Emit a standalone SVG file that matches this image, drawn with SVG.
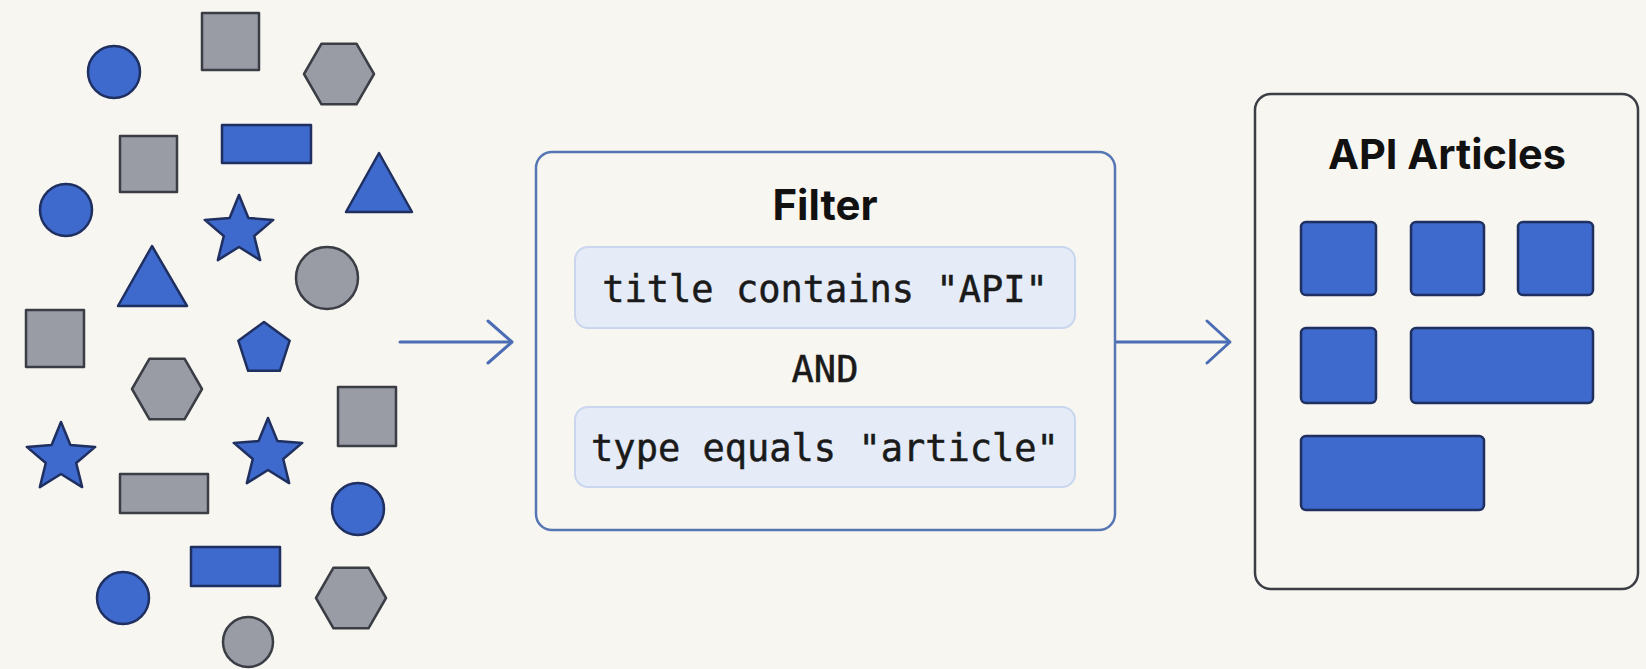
<svg xmlns="http://www.w3.org/2000/svg" xmlns:xlink="http://www.w3.org/1999/xlink" width="1646" height="669" viewBox="0 0 1646 669">
<style>
.bl{fill:#3e69cd;stroke:#1e2f60;stroke-width:2.5;stroke-linejoin:round}
.gr{fill:#999ca4;stroke:#3a3d44;stroke-width:2.5;stroke-linejoin:round}
.res{fill:#3e69cd;stroke:#1e2f60;stroke-width:2.5}
.title{font-family:Inter,"Liberation Sans",sans-serif;font-weight:700;fill:#111;text-anchor:middle}
.mono{font-family:"DejaVu Sans Mono","Liberation Mono",monospace;font-size:37px;fill:#1a1a1a;stroke:#1a1a1a;stroke-width:0.5;text-anchor:middle}
.cond{fill:#e5ecf8;stroke:#c9d6ee;stroke-width:2}
.conn{fill:none;stroke:#4a6db4;stroke-width:3;stroke-linecap:round;stroke-linejoin:round}
</style>
<defs>
<path id="star" d="M0,-36 L9.4,-12.94 L34.24,-11.12 L15.22,4.94 L21.16,29.12 L0,16 L-21.16,29.12 L-15.22,4.94 L-34.24,-11.12 L-9.4,-12.94 Z"/>
<path id="hex" d="M-35,0 L-17.5,-30.3 L17.5,-30.3 L35,0 L17.5,30.3 L-17.5,30.3 Z"/>
<path id="pent" d="M0,-27 L25.68,-8.34 L15.87,21.84 L-15.87,21.84 L-25.68,-8.34 Z"/>
</defs>
<rect x="0" y="0" width="1646" height="669" fill="#f8f6f1"/>

<g id="input-items">
<g id="s1"><circle class="bl" cx="114" cy="72" r="26"/></g>
<g id="s2"><rect class="gr" x="202" y="13" width="57" height="57"/></g>
<g id="s3"><use class="gr" href="#hex" x="339" y="74"/></g>
<g id="s4"><rect class="gr" x="120" y="136" width="57" height="56"/></g>
<g id="s5"><rect class="bl" x="222" y="125" width="89" height="38"/></g>
<g id="s6"><polygon class="bl" points="379,153 412,212 346,212"/></g>
<g id="s7"><circle class="bl" cx="66" cy="210" r="26"/></g>
<g id="s8"><use class="bl" href="#star" x="239" y="231"/></g>
<g id="s9"><polygon class="bl" points="152,246 187,306 118,306"/></g>
<g id="s10"><circle class="gr" cx="327" cy="278" r="31"/></g>
<g id="s11"><rect class="gr" x="26" y="310" width="58" height="57"/></g>
<g id="s12"><use class="bl" href="#pent" x="264" y="349"/></g>
<g id="s13"><use class="gr" href="#hex" x="167" y="389"/></g>
<g id="s14"><rect class="gr" x="338" y="387" width="58" height="59"/></g>
<g id="s15"><use class="bl" href="#star" x="61" y="458"/></g>
<g id="s16"><use class="bl" href="#star" x="268" y="454"/></g>
<g id="s17"><rect class="gr" x="120" y="474" width="88" height="39"/></g>
<g id="s18"><circle class="bl" cx="358" cy="509" r="26"/></g>
<g id="s19"><rect class="bl" x="191" y="547" width="89" height="39"/></g>
<g id="s20"><circle class="bl" cx="123" cy="598" r="26"/></g>
<g id="s21"><use class="gr" href="#hex" x="351" y="598"/></g>
<g id="s22"><circle class="gr" cx="248" cy="642" r="25"/></g>
</g>

<g id="connectors">
<path class="conn" d="M400,342 H511"/>
<path class="conn" d="M488,321 L512,342 L488,363"/>
<path class="conn" d="M1115,342 H1229"/>
<path class="conn" d="M1207,321 L1230,342 L1207,363"/>
</g>

<g id="filter">
<rect x="536" y="152" width="579" height="378" rx="16" fill="#f8f6f1" stroke="#5676b4" stroke-width="2.5"/>
<text class="title" x="825" y="220" font-size="42">Filter</text>
<rect class="cond" x="575" y="247" width="500" height="81" rx="13"/>
<text class="mono" x="825" y="302">title contains "API"</text>
<text class="mono" x="825" y="382">AND</text>
<rect class="cond" x="575" y="407" width="500" height="80" rx="13"/>
<text class="mono" x="825" y="461">type equals "article"</text>
</g>

<g id="api-articles">
<rect x="1255" y="94" width="383" height="495" rx="16" fill="#f8f6f1" stroke="#3b3e45" stroke-width="2.5"/>
<text class="title" x="1447" y="169" font-size="41.5">API Articles</text>
<rect class="res" x="1301" y="222" width="75" height="73" rx="5"/>
<rect class="res" x="1411" y="222" width="73" height="73" rx="5"/>
<rect class="res" x="1518" y="222" width="75" height="73" rx="5"/>
<rect class="res" x="1301" y="328" width="75" height="75" rx="5"/>
<rect class="res" x="1411" y="328" width="182" height="75" rx="5"/>
<rect class="res" x="1301" y="436" width="183" height="74" rx="5"/>
</g>
</svg>
